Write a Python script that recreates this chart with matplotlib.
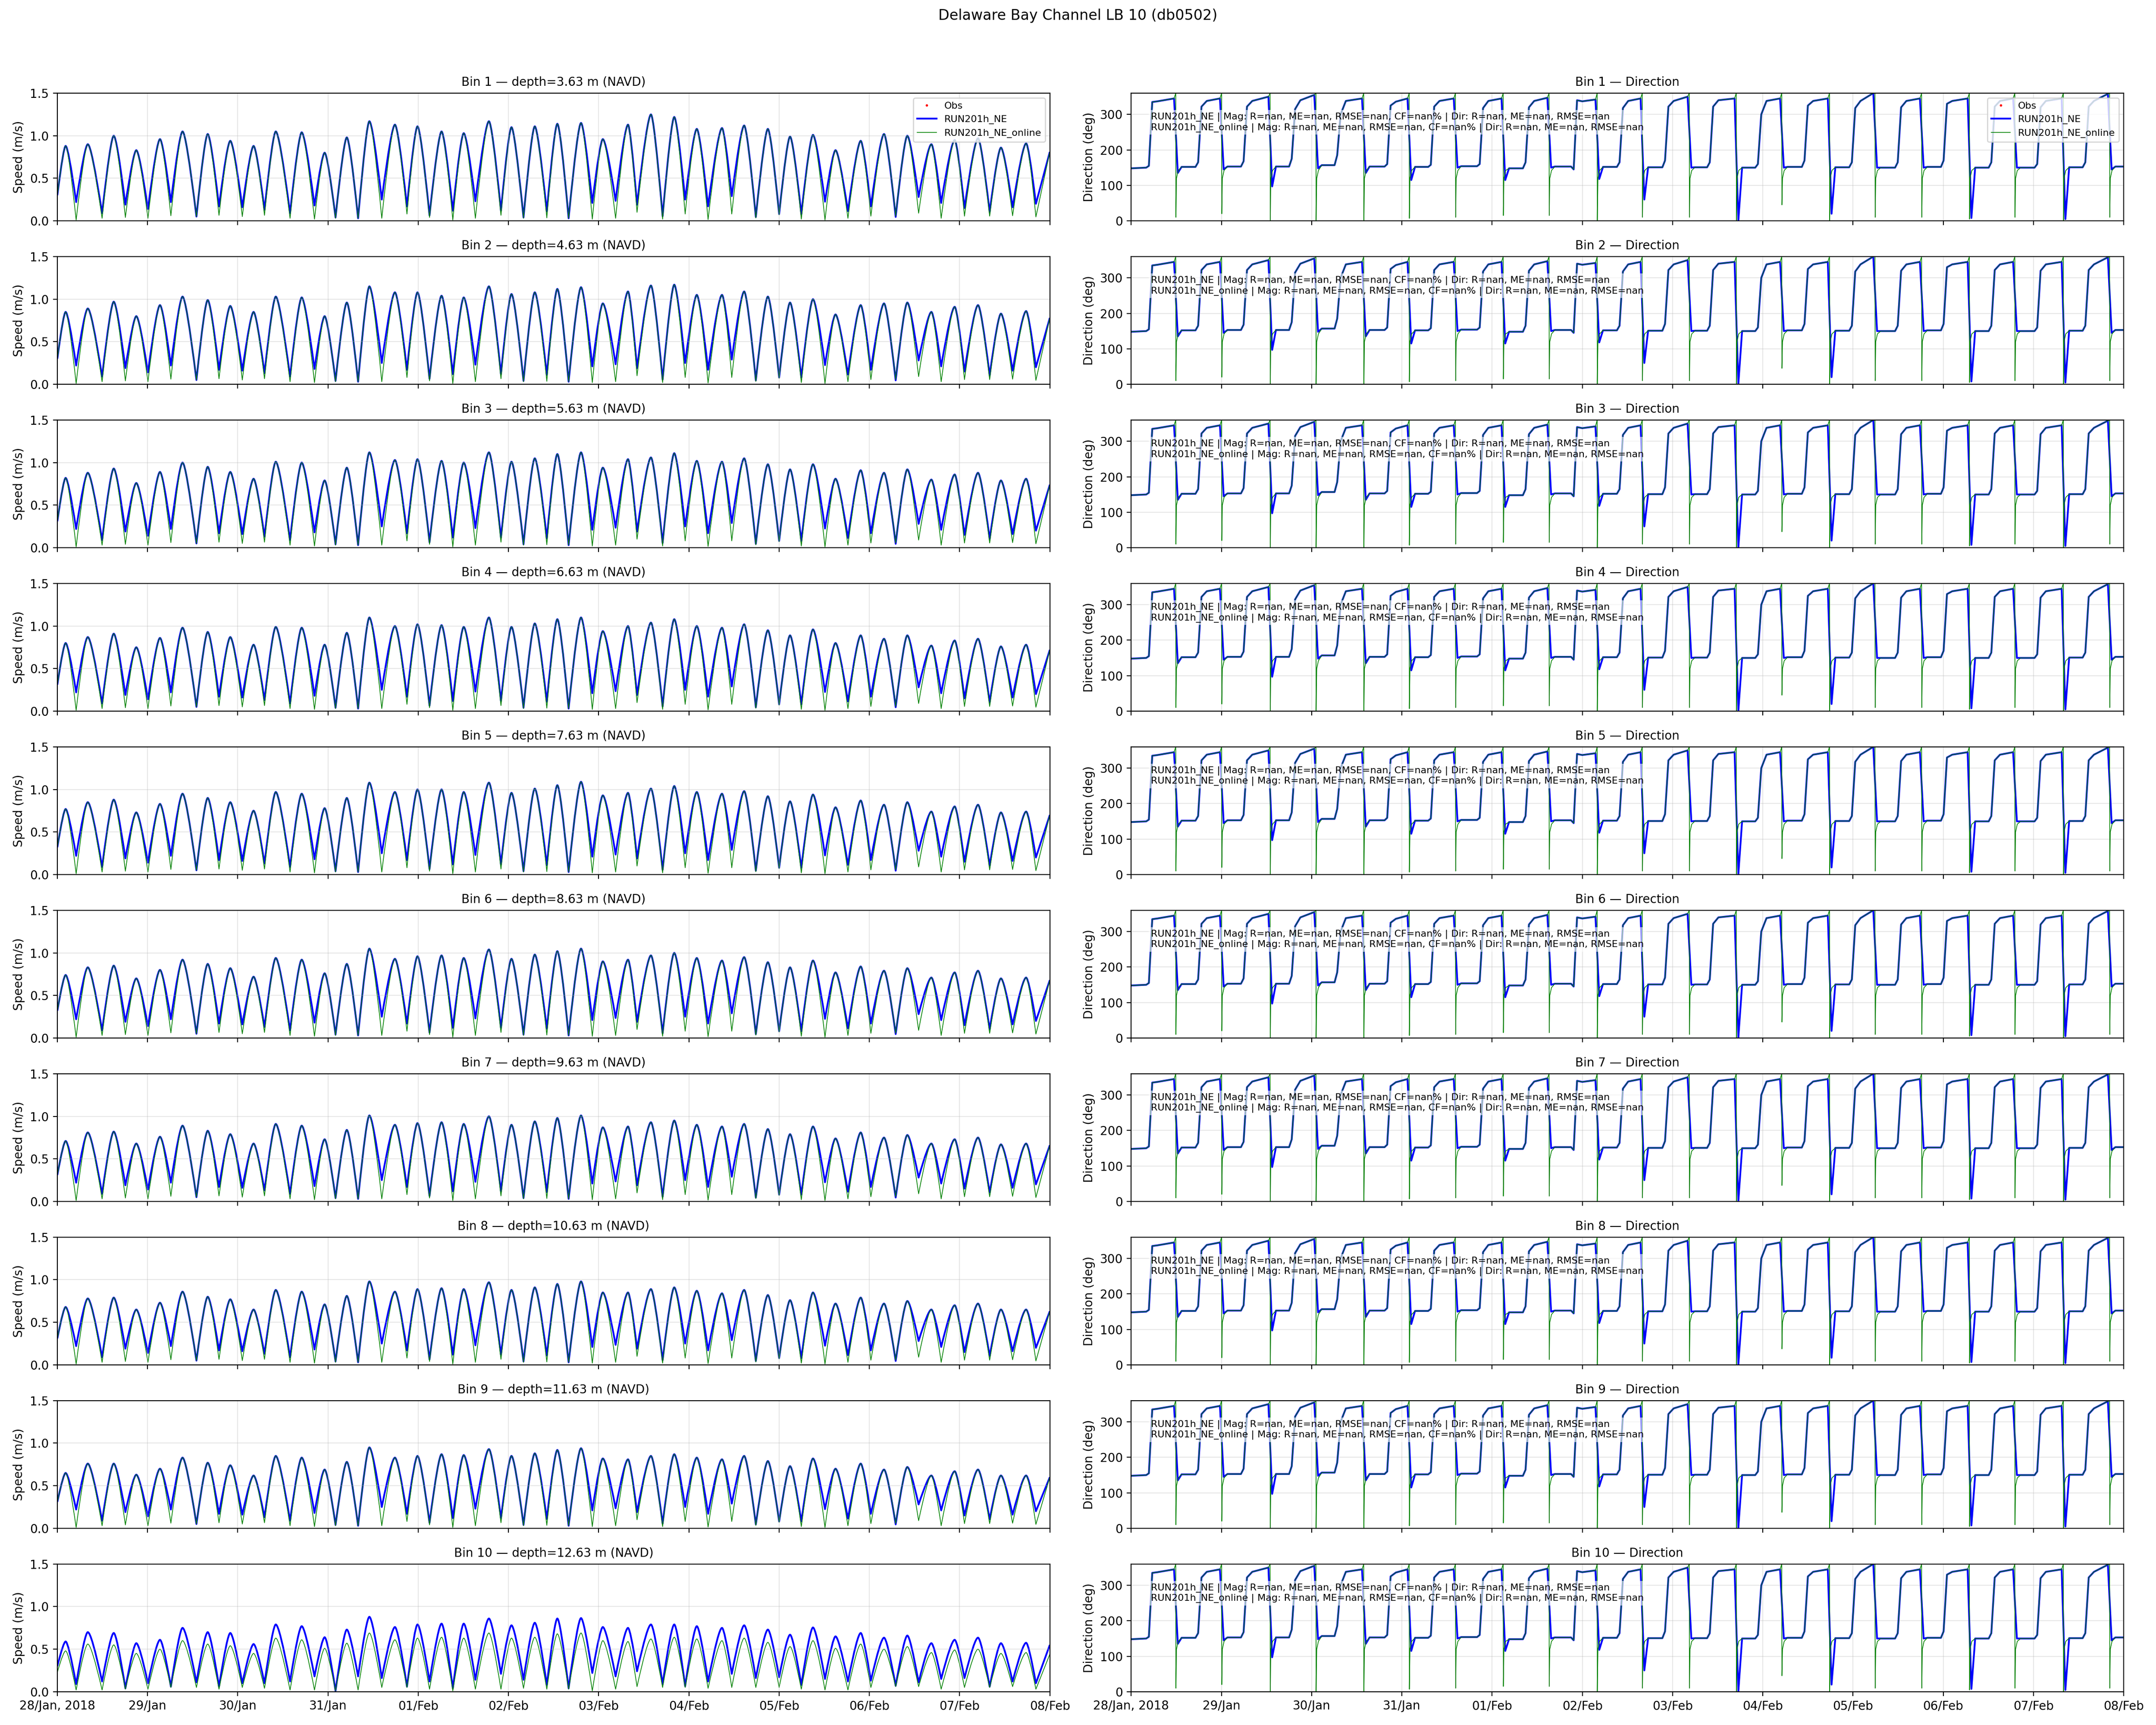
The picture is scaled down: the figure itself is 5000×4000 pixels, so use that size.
import numpy as np
import matplotlib
matplotlib.use('Agg')
import matplotlib.pyplot as plt
import matplotlib.dates as mdates
from matplotlib.path import Path
from matplotlib.patches import PathPatch

# ---- time base (hours after 28 Jan 2018 00:00) ----
t0 = np.datetime64('2018-01-28T00:00')
end_hour = 264.0

# times of max speed and of slack water
peak_hours = [2.2, 8.1, 15.0, 21.0, 27.3, 33.3, 40.0, 46.0, 52.2, 58.1, 65.0, 71.1, 77.0, 83.0,
              89.8, 95.8, 102.2, 108.1, 114.8, 120.8, 127.0, 133.0, 139.3, 145.1, 151.8, 157.9,
              164.1, 170.1, 176.8, 182.7, 189.0, 194.9, 201.0, 207.0, 213.7, 219.9, 226.1, 232.5,
              238.7, 244.9, 251.0, 257.7]
slack_hours = [5.0, 11.9, 18.1, 24.1, 30.2, 37.0, 43.0, 49.2, 55.1, 61.9, 68.4, 74.0, 80.0, 86.3,
               93.0, 99.0, 105.2, 111.2, 118.0, 124.0, 130.2, 136.0, 142.3, 148.5, 154.2, 161.0,
               167.0, 173.1, 179.4, 185.8, 192.0, 197.9, 204.2, 210.3, 216.4, 223.0, 229.1, 235.1,
               241.3, 248.0, 254.1, 260.3]

depths = [3.63, 4.63, 5.63, 6.63, 7.63, 8.63, 9.63, 10.63, 11.63, 12.63]

# ---- speed (m/s) ----
speed_first = [0.30, 0.30, 0.31, 0.31, 0.32, 0.32, 0.31, 0.31, 0.31, 0.30]
speed_last = [0.81, 0.78, 0.74, 0.72, 0.70, 0.68, 0.66, 0.63, 0.60, 0.55]

peak_bin1 = [0.88, 0.90, 1.00, 0.83, 0.96, 1.05, 1.02, 0.94, 0.88, 1.05, 1.04, 0.80, 0.98, 1.17,
             1.13, 1.11, 1.05, 1.03, 1.17, 1.10, 1.11, 1.14, 1.15, 0.96, 1.13, 1.25, 1.22, 1.08,
             1.09, 1.12, 1.08, 0.99, 1.01, 0.83, 0.94, 1.02, 1.00, 0.90, 0.95, 0.97, 0.86, 0.91]
peak_bin2 = [0.85, 0.89, 0.97, 0.80, 0.93, 1.03, 0.99, 0.92, 0.85, 1.03, 1.02, 0.80, 0.96, 1.15,
             1.08, 1.08, 1.04, 1.02, 1.15, 1.06, 1.08, 1.12, 1.14, 0.95, 1.09, 1.16, 1.17, 1.05,
             1.05, 1.09, 1.03, 0.96, 1.00, 0.82, 0.93, 0.95, 0.96, 0.85, 0.91, 0.93, 0.83, 0.86]
peak_bin3 = [0.82, 0.88, 0.93, 0.76, 0.89, 1.00, 0.95, 0.89, 0.81, 1.01, 1.00, 0.79, 0.94, 1.12,
             1.03, 1.04, 1.02, 1.00, 1.12, 1.01, 1.05, 1.10, 1.12, 0.94, 1.04, 1.06, 1.11, 1.02,
             1.01, 1.05, 0.98, 0.92, 0.98, 0.81, 0.91, 0.88, 0.92, 0.80, 0.86, 0.88, 0.79, 0.81]
peak_bin4 = [0.80, 0.87, 0.91, 0.75, 0.86, 0.98, 0.93, 0.87, 0.78, 0.99, 0.98, 0.78, 0.92, 1.10,
             1.00, 1.02, 1.01, 0.99, 1.10, 0.99, 1.03, 1.08, 1.10, 0.94, 1.00, 1.04, 1.08, 1.00,
             0.98, 1.02, 0.95, 0.89, 0.96, 0.80, 0.89, 0.85, 0.89, 0.77, 0.83, 0.85, 0.76, 0.78]
peak_bin5 = [0.77, 0.85, 0.88, 0.73, 0.83, 0.95, 0.90, 0.85, 0.75, 0.97, 0.95, 0.78, 0.90, 1.08,
             0.97, 1.00, 1.00, 0.97, 1.08, 0.96, 1.01, 1.05, 1.09, 0.93, 0.96, 1.01, 1.04, 0.97,
             0.95, 0.98, 0.92, 0.86, 0.94, 0.79, 0.87, 0.82, 0.85, 0.74, 0.80, 0.82, 0.73, 0.74]
peak_bin6 = [0.74, 0.83, 0.85, 0.70, 0.80, 0.92, 0.87, 0.82, 0.72, 0.94, 0.92, 0.76, 0.87, 1.05,
             0.93, 0.96, 0.97, 0.94, 1.04, 0.93, 0.98, 1.02, 1.05, 0.90, 0.92, 0.97, 1.00, 0.94,
             0.91, 0.95, 0.89, 0.83, 0.91, 0.77, 0.84, 0.79, 0.82, 0.71, 0.77, 0.79, 0.70, 0.71]
peak_bin7 = [0.71, 0.81, 0.82, 0.68, 0.76, 0.89, 0.83, 0.79, 0.68, 0.91, 0.89, 0.73, 0.84, 1.01,
             0.90, 0.92, 0.93, 0.91, 1.00, 0.90, 0.94, 0.98, 1.01, 0.87, 0.88, 0.93, 0.95, 0.90,
             0.88, 0.91, 0.85, 0.79, 0.88, 0.74, 0.81, 0.75, 0.78, 0.68, 0.73, 0.75, 0.67, 0.68]
peak_bin8 = [0.68, 0.78, 0.79, 0.65, 0.73, 0.86, 0.80, 0.77, 0.65, 0.88, 0.86, 0.71, 0.81, 0.98,
             0.86, 0.89, 0.90, 0.89, 0.97, 0.88, 0.91, 0.95, 0.98, 0.85, 0.85, 0.89, 0.91, 0.87,
             0.84, 0.88, 0.82, 0.76, 0.85, 0.72, 0.79, 0.72, 0.75, 0.65, 0.70, 0.72, 0.65, 0.65]
peak_bin9 = [0.65, 0.76, 0.76, 0.63, 0.70, 0.83, 0.77, 0.74, 0.62, 0.85, 0.83, 0.69, 0.78, 0.95,
             0.83, 0.85, 0.87, 0.86, 0.93, 0.85, 0.88, 0.92, 0.94, 0.82, 0.81, 0.85, 0.87, 0.83,
             0.81, 0.85, 0.79, 0.73, 0.82, 0.70, 0.76, 0.69, 0.72, 0.62, 0.67, 0.69, 0.62, 0.62]
peak_bin10 = [0.59, 0.70, 0.69, 0.57, 0.61, 0.75, 0.70, 0.69, 0.56, 0.79, 0.77, 0.64, 0.73, 0.88,
              0.76, 0.79, 0.80, 0.80, 0.86, 0.78, 0.81, 0.86, 0.865, 0.76, 0.75, 0.79, 0.79, 0.77,
              0.75, 0.78, 0.73, 0.67, 0.755, 0.65, 0.69, 0.635, 0.66, 0.57, 0.61, 0.635, 0.57, 0.575]
# online run, bottom bin (clearly weaker than RUN201h_NE there)
green_peak_bin10 = [0.48, 0.56, 0.55, 0.45, 0.50, 0.60, 0.56, 0.54, 0.45, 0.63, 0.61, 0.51, 0.57,
                    0.69, 0.61, 0.63, 0.64, 0.63, 0.69, 0.63, 0.64, 0.68, 0.69, 0.60, 0.59, 0.62,
                    0.64, 0.62, 0.60, 0.63, 0.58, 0.53, 0.60, 0.51, 0.56, 0.50, 0.53, 0.46, 0.49,
                    0.50, 0.45, 0.46]
green_first_bin10 = 0.23
green_last_bin10 = 0.44

# slack-water minima: hourly run keeps a shoulder, online run nearly reaches zero
trough_upper = [0.22, 0.09, 0.19, 0.14, 0.22, 0.05, 0.17, 0.16, 0.13, 0.09, 0.18, 0.04, 0.03, 0.25,
                0.17, 0.065, 0.12, 0.23, 0.12, 0.04, 0.11, 0.03, 0.21, 0.235, 0.19, 0.055, 0.25,
                0.17, 0.29, 0.046, 0.08, 0.08, 0.225, 0.115, 0.17, 0.046, 0.28, 0.21, 0.15, 0.105,
                0.16, 0.20]
green_trough_upper = [0.01, 0.03, 0.04, 0.03, 0.06, 0.05, 0.065, 0.05, 0.065, 0.03, 0.02, 0.03,
                      0.03, 0.03, 0.08, 0.04, 0.01, 0.03, 0.065, 0.03, 0.035, 0.03, 0.02, 0.03,
                      0.10, 0.02, 0.08, 0.015, 0.08, 0.034, 0.07, 0.02, 0.01, 0.03, 0.055, 0.055,
                      0.09, 0.03, 0.055, 0.055, 0.06, 0.046]
trough_bin10 = [0.09, 0.12, 0.04, 0.10, 0.06, 0.11, 0.06, 0.10, 0.10, 0.12, 0.18, 0.01, 0.18, 0.16,
                0.06, 0.12, 0.04, 0.14, 0.21, 0.14, 0.08, 0.04, 0.22, 0.18, 0.24, 0.09, 0.065, 0.12,
                0.21, 0.16, 0.17, 0.08, 0.15, 0.12, 0.13, 0.07, 0.11, 0.15, 0.16, 0.06, 0.12, 0.10]
green_trough_bin10 = [0.02, 0.02, 0.03, 0.03, 0.05, 0.05, 0.03, 0.05, 0.04, 0.02, 0.02, 0.01, 0.02,
                      0.05, 0.05, 0.03, 0.01, 0.03, 0.03, 0.04, 0.03, 0.03, 0.01, 0.03, 0.06, 0.05,
                      0.05, 0.04, 0.05, 0.05, 0.05, 0.03, 0.02, 0.02, 0.05, 0.06, 0.06, 0.03, 0.05,
                      0.05, 0.06, 0.03]

peaks_by_bin = [peak_bin1, peak_bin2, peak_bin3, peak_bin4, peak_bin5,
                peak_bin6, peak_bin7, peak_bin8, peak_bin9, peak_bin10]

# ---- direction (deg), same tidal pattern in every bin ----
dir_first = 148
dir_last = 153
ebb_level = [150, 152, 153, 153, 157, 153, 152, 154, 148, 153, 152, 151, 151, 150, 152, 151, 150,
             152, 150, 150, 151, 153]
ebb_end = [155, 165, 168, 175, 185, 160, 158, 160, 165, 145, 165, 170, 165, 160, 170, 165, 165,
           170, 165, 160, 165]
flood_start = [335, 322, 322, 315, 300, 325, 322, 318, 320, 340, 318, 322, 322, 300, 325, 318,
               320, 330, 322, 320, 322]
flood_level = [337, 338, 338, 340, 338, 336, 338, 338, 338, 337, 338, 338, 340, 338, 338, 338,
               338, 338, 338, 338, 338]
flood_end = [345, 345, 350, 355, 345, 345, 345, 345, 347, 342, 345, 350, 345, 345, 345, 360, 345,
             345, 345, 345, 358]
blue_dip = [135, 145, 97, 148, 135, 115, 150, 115, 150, 118, 60, 150, 0, 150, 20, 150, 150, 8,
            150, 5, 145]
green_spike = [10, 20, 0, 0, 0, 7, 10, 15, 15, 0, 10, 10, 0, 45, 0, 10, 10, 5, 10, 0, 10]

x_start = mdates.date2num(t0)


def to_time(hours):
    return t0 + (np.array(hours) * 3600).astype('timedelta64[s]')


def hx(h):
    # hours -> matplotlib date number
    return x_start + h / 24.0


def speed_path(first, peaks, troughs, last):
    # tidal arches through the read extrema (quadratic curves, flat at each peak)
    verts = [(hx(0.0), first)]
    codes = [Path.MOVETO]
    prev = 0.0
    for ph, pv, sh, sv in zip(peak_hours, peaks, slack_hours, troughs):
        verts += [(hx(prev + 0.75 * (ph - prev)), pv), (hx(ph), pv),
                  (hx(ph + 0.25 * (sh - ph)), pv), (hx(sh), sv)]
        codes += [Path.CURVE3] * 4
        prev = sh
    verts.append((hx(end_hour), last))
    codes.append(Path.LINETO)
    return Path(verts, codes)


def direction_track(fine):
    up = slack_hours[0::2]
    down = slack_hours[1::2]
    t = [0.0]
    d = [dir_first]
    for k in range(len(up)):
        t += [up[k] - 1.0, up[k] - 0.3, up[k] + 0.6, up[k] + 2.0, down[k] - 0.5]
        d += [ebb_level[k], ebb_end[k], flood_start[k], flood_level[k], flood_end[k]]
        if fine:
            t += [down[k] - 0.05, down[k], down[k] + 0.15, down[k] + 0.6]
            d += [360, green_spike[k], 120, 142]
        else:
            t += [down[k] + 0.5]
            d += [blue_dip[k]]
        t.append(down[k] + 1.5)
        d.append(ebb_level[k + 1])
    t.append(end_hour)
    d.append(dir_last)
    return to_time(t), np.array(d)


nan = float('nan')
stats = [
    f"RUN201h_NE | Mag: R={nan:.2f}, ME={nan:.2f}, RMSE={nan:.2f}, CF={nan:.1f}% | "
    f"Dir: R={nan:.2f}, ME={nan:.1f}, RMSE={nan:.1f}",
    f"RUN201h_NE_online | Mag: R={nan:.2f}, ME={nan:.2f}, RMSE={nan:.2f}, CF={nan:.1f}% | "
    f"Dir: R={nan:.2f}, ME={nan:.1f}, RMSE={nan:.1f}",
]

fig, axes = plt.subplots(10, 2, figsize=(25, 20), dpi=200, sharex=True)
fig.subplots_adjust(left=0.0266, right=0.985, top=0.946, bottom=0.0193, wspace=0.082, hspace=0.28)
fig.suptitle('Delaware Bay Channel LB 10 (db0502)', fontsize=12, y=0.995)

obs_t = to_time([0.0, end_hour])
obs_v = np.array([nan, nan])
dir_t_b, dir_b = direction_track(False)
dir_t_g, dir_g = direction_track(True)

for i in range(10):
    ax_s, ax_d = axes[i]
    if i == 9:
        gt_first, gt_peaks, gt_troughs, gt_last = (green_first_bin10, green_peak_bin10,
                                                   green_trough_bin10, green_last_bin10)
        bt = trough_bin10
    else:
        gt_first, gt_peaks, gt_troughs, gt_last = (speed_first[i], peaks_by_bin[i],
                                                   green_trough_upper, speed_last[i])
        bt = trough_upper

    ax_s.plot(obs_t, obs_v, 'r.', ms=2, label='Obs')
    ax_s.plot([], [], 'b-', lw=1.5, label='RUN201h_NE')
    ax_s.plot([], [], 'g-', lw=0.6, label='RUN201h_NE_online')
    ax_s.add_patch(PathPatch(speed_path(speed_first[i], peaks_by_bin[i], bt, speed_last[i]),
                             facecolor='none', edgecolor='b', lw=1.5, joinstyle='round'))
    ax_s.add_patch(PathPatch(speed_path(gt_first, gt_peaks, gt_troughs, gt_last),
                             facecolor='none', edgecolor='g', lw=0.6, joinstyle='round'))
    ax_s.set_ylim(0, 1.5)
    ax_s.set_ylabel('Speed (m/s)')
    ax_s.set_title(f'Bin {i + 1} \u2014 depth={depths[i]:.2f} m (NAVD)', fontsize=10)
    ax_s.grid(True, alpha=0.3)

    ax_d.plot(obs_t, obs_v, 'r.', ms=2, label='Obs')
    ax_d.plot(dir_t_b, dir_b, 'b-', lw=1.5, label='RUN201h_NE')
    ax_d.plot(dir_t_g, dir_g, 'g-', lw=0.6, label='RUN201h_NE_online')
    ax_d.set_ylim(0, 360)
    ax_d.set_yticks([0, 100, 200, 300])
    ax_d.set_ylabel('Direction (deg)')
    ax_d.set_title(f'Bin {i + 1} \u2014 Direction', fontsize=10)
    ax_d.grid(True, alpha=0.3)
    ax_d.text(0.02, 0.85, '\n'.join(stats), transform=ax_d.transAxes, fontsize=8, va='top',
              bbox=dict(facecolor='white', alpha=0.6, edgecolor='none', pad=2))

    if i == 0:
        ax_s.legend(loc='upper right', fontsize=8)
        ax_d.legend(loc='upper right', fontsize=8)

x_end = hx(end_hour)


def day_fmt(x, pos):
    d = mdates.num2date(x)
    if abs(x - x_start) < 1e-6:
        return d.strftime('%d/%b, %Y')
    return d.strftime('%d/%b')


for ax in axes.flat:
    ax.set_xlim(x_start, x_end)
    ax.xaxis.set_major_locator(mdates.DayLocator())
    ax.xaxis.set_major_formatter(plt.FuncFormatter(day_fmt))

fig.savefig('out.png', dpi=200)
